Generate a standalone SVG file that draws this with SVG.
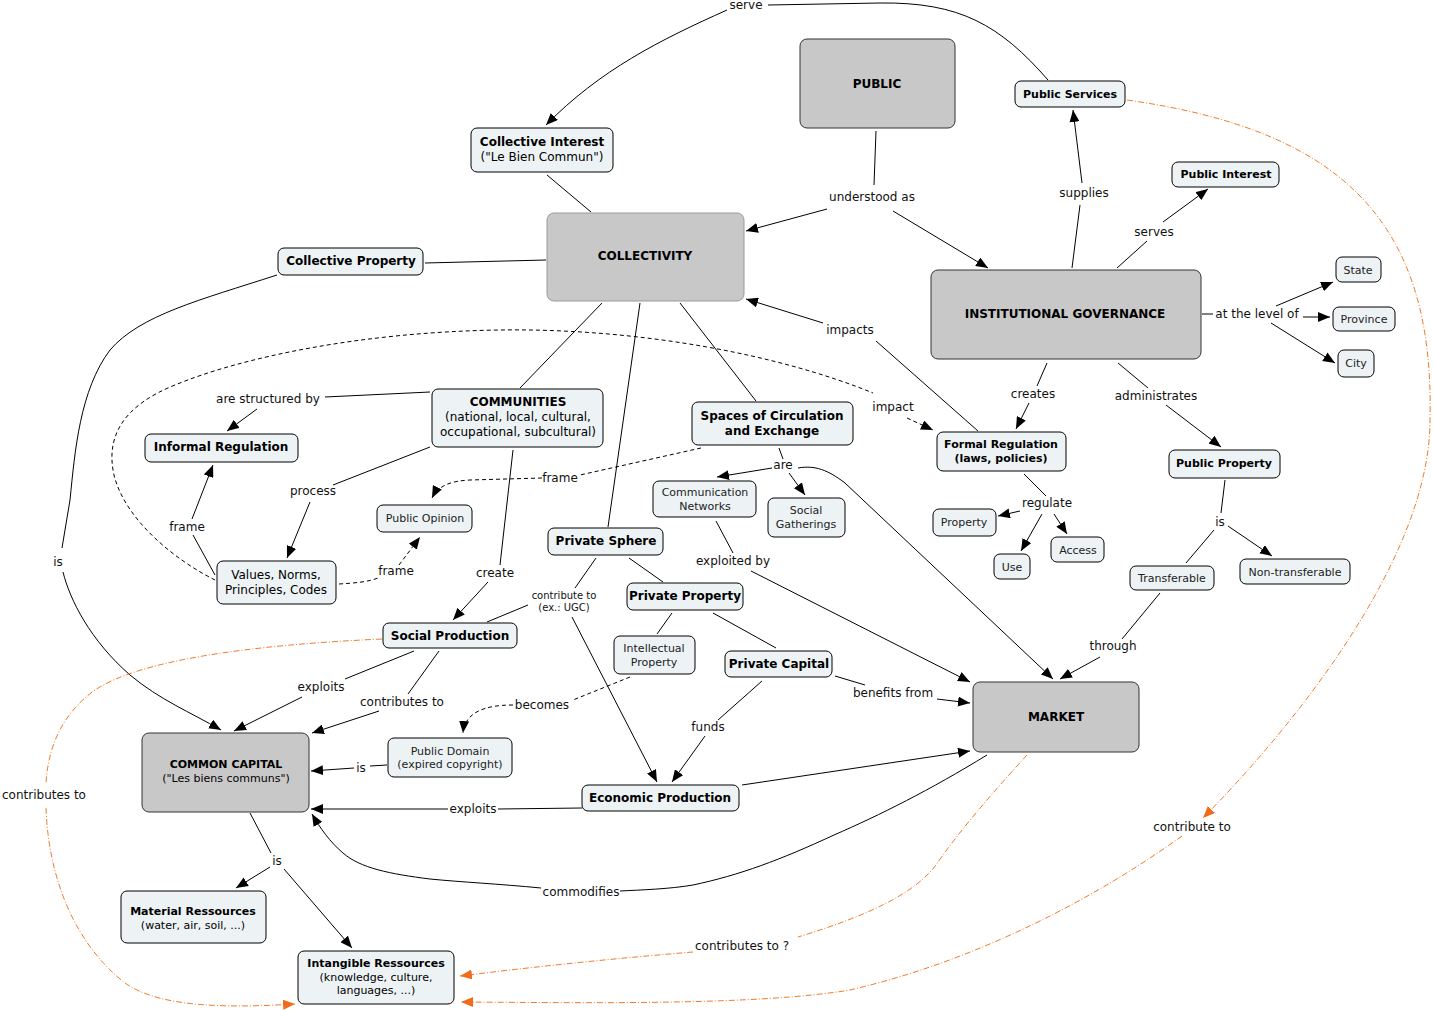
<svg xmlns="http://www.w3.org/2000/svg" width="1433" height="1010" viewBox="0 0 1433 1010">
<defs>
<style>
.n rect{fill:#edf3f5;stroke:#000;stroke-width:1}
.g rect{fill:#c8c8c8;stroke:#333;stroke-width:1}
text{font-family:"DejaVu Sans",Verdana,sans-serif;text-anchor:middle;dominant-baseline:central;fill:#000}
.b{font-size:12px;font-weight:bold}
.b11{font-size:11px;font-weight:bold}
.r{font-size:12px}
.r11{font-size:11px}
.s{font-size:11px;fill:#222}
.l{font-size:12px;fill:#111}
.l10{font-size:10px;fill:#111}
.c path{fill:none;stroke:#000;stroke-width:1}
.c path.d{stroke-dasharray:4,3}
.c path.a{marker-end:url(#ah)}
.o path{fill:none;stroke:#ef7d2e;stroke-width:1;stroke-dasharray:6,2,1,2}
.o path.a{marker-end:url(#oh)}
</style>
<marker id="ah" viewBox="0 0 12 10" refX="12" refY="5" markerWidth="12" markerHeight="10" markerUnits="userSpaceOnUse" orient="auto"><path d="M0,0 L12,5 L0,10 z" fill="#000"/></marker>
<marker id="oh" viewBox="0 0 12 10" refX="12" refY="5" markerWidth="12" markerHeight="10" markerUnits="userSpaceOnUse" orient="auto"><path d="M0,0 L12,5 L0,10 z" fill="#f26b1a"/></marker>
</defs>
<rect width="1433" height="1010" fill="#fff"/>

<g id="connectors">
<g class="c">
<path d="M1048,80 C1000,25 960,2 880,3 L768,5"/>
<path class="a" d="M727,10 C660,40 600,70 546,125"/>
<path d="M547,175 L591,212"/>
<path d="M876,131 L874,185"/>
<path class="a" d="M827,209 L746,231"/>
<path class="a" d="M893,211 L988,268"/>
<path d="M1072,268 L1080,205"/>
<path class="a" d="M1082,183 L1073,110"/>
<path d="M1117,268 L1147,241"/>
<path class="a" d="M1163,222 L1208,189"/>
<path d="M1202,314 L1213,314"/>
<path class="a" d="M1276,306 L1333,282"/>
<path class="a" d="M1303,317 L1330,317"/>
<path class="a" d="M1271,323 L1335,363"/>
<path d="M425,263 L546,260"/>
<path d="M277,275 C200,300 140,315 110,350 C80,390 75,450 70,500 L62,548"/>
<path class="a" d="M63,572 C70,600 90,640 130,675 C160,700 190,712 221,730"/>
<path d="M414,651 L345,679"/>
<path class="a" d="M302,697 L234,731"/>
<path d="M439,651 L408,694"/>
<path class="a" d="M379,711 L312,733"/>
<path d="M387,765 L370,766"/>
<path class="a" d="M354,768 L311,771"/>
<path d="M582,808 L498,809"/>
<path class="a" d="M448,809 L311,809"/>
<path d="M987,755 C930,790 880,815 834,835 C780,860 740,875 693,885 C670,889 640,890 620,891"/>
<path class="a" d="M541,888 C500,884 460,882 430,879 C390,874 360,868 343,853 C330,842 320,828 312,814"/>
<path d="M250,813 L271,853"/>
<path class="a" d="M270,867 L236,888"/>
<path class="a" d="M284,869 L352,948"/>
<path d="M513,450 L500,565"/>
<path class="a" d="M488,582 L453,620"/>
<path d="M596,558 L575,588"/>
<path d="M528,605 L487,622"/>
<path class="a" d="M572,617 L657,782"/>
<path d="M629,558 L663,582"/>
<path d="M672,613 L657,634"/>
<path d="M713,613 L776,648"/>
<path class="d" d="M630,677 L573,700"/>
<path class="d a" d="M513,705 C485,705 465,712 463,733"/>
<path d="M762,681 L718,720"/>
<path class="a" d="M705,736 L672,782"/>
<path d="M835,676 L865,685"/>
<path class="a" d="M937,699 L970,703"/>
<path class="a" d="M742,785 L970,751"/>
<path d="M716,521 L733,553"/>
<path class="a" d="M751,571 L970,682"/>
<path d="M779,448 L783,459"/>
<path class="a" d="M772,468 L717,477"/>
<path class="a" d="M789,473 L805,495"/>
<path class="a" d="M798,468 C815,465 828,470 845,483 L1053,679"/>
<path d="M1160,593 L1122,639"/>
<path class="a" d="M1100,657 L1060,679"/>
<path d="M1225,480 L1221,513"/>
<path d="M1214,530 L1186,563"/>
<path class="a" d="M1228,526 L1272,556"/>
<path d="M1118,363 L1148,388"/>
<path class="a" d="M1166,405 L1221,447"/>
<path d="M1047,363 L1037,386"/>
<path class="a" d="M1029,403 L1016,429"/>
<path d="M1024,474 L1046,496"/>
<path class="a" d="M1020,511 L998,516"/>
<path class="a" d="M1042,514 L1021,551"/>
<path class="a" d="M1054,514 L1067,534"/>
<path d="M978,431 L876,341"/>
<path class="a" d="M823,323 L746,299"/>
<path class="d" d="M215,580 C175,560 125,520 114,475 C105,435 125,405 175,385 C240,358 360,332 500,330 C640,328 780,355 873,393"/>
<path class="d a" d="M907,418 L933,430"/>
<path d="M430,392 L325,397"/>
<path class="a" d="M257,409 L227,431"/>
<path d="M430,447 L333,485"/>
<path class="a" d="M310,502 L287,558"/>
<path d="M215,575 L193,535"/>
<path class="a" d="M192,519 L213,465"/>
<path class="d" d="M339,584 C355,583 368,582 378,578"/>
<path class="d a" d="M399,565 L420,537"/>
<path class="d" d="M701,448 L580,475"/>
<path class="d a" d="M542,478 L470,480 C450,481 438,486 432,498"/>
<path d="M602,303 L520,388"/>
<path d="M640,303 L608,527"/>
<path d="M680,303 L756,401"/>
</g>
<g class="o">
<path class="a" d="M1127,100 C1340,130 1435,220 1430,420 C1430,560 1290,730 1203,818"/>
<path class="a" d="M1182,836 C1100,895 980,960 850,990 C760,1005 600,1003 461,1002"/>
<path d="M1027,755 C995,790 960,830 936,865 C915,893 870,915 798,937"/>
<path class="a" d="M693,952 C620,958 540,966 460,976"/>
<path d="M382,639 C250,645 140,660 95,690 C60,715 48,750 46,783"/>
<path class="a" d="M46,808 C48,870 70,940 125,983 C160,1008 230,1008 295,1004"/>
</g>
<g id="labels">
<text class="l" x="746" y="5">serve</text>
<text class="l" x="872" y="197">understood as</text>
<text class="l" x="1084" y="193">supplies</text>
<text class="l" x="1154" y="232">serves</text>
<text class="l" x="1257" y="314">at the level of</text>
<text class="l" x="850" y="330">impacts</text>
<text class="l" x="893" y="407">impact</text>
<text class="l" x="268" y="399">are structured by</text>
<text class="l" x="313" y="491">process</text>
<text class="l" x="187" y="527">frame</text>
<text class="l" x="396" y="571">frame</text>
<text class="l" x="560" y="478">frame</text>
<text class="l" x="495" y="573">create</text>
<text class="l" x="783" y="465">are</text>
<text class="l" x="733" y="561">exploited by</text>
<text class="l10" x="564" y="595">contribute to</text>
<text class="l10" x="564" y="607">(ex.: UGC)</text>
<text class="l" x="1033" y="394">creates</text>
<text class="l" x="1156" y="396">administrates</text>
<text class="l" x="1047" y="503">regulate</text>
<text class="l" x="1220" y="522">is</text>
<text class="l" x="1113" y="646">through</text>
<text class="l" x="893" y="693">benefits from</text>
<text class="l" x="708" y="727">funds</text>
<text class="l" x="542" y="705">becomes</text>
<text class="l" x="321" y="687">exploits</text>
<text class="l" x="402" y="702">contributes to</text>
<text class="l" x="361" y="768">is</text>
<text class="l" x="473" y="809">exploits</text>
<text class="l" x="581" y="892">commodifies</text>
<text class="l" x="277" y="861">is</text>
<text class="l" x="58" y="562">is</text>
<text class="l" x="44" y="795">contributes to</text>
<text class="l" x="1192" y="827">contribute to</text>
<text class="l" x="742" y="946">contributes to ?</text>
</g>
</g>

<g id="n-public" class="g"><rect x="800" y="39" width="155" height="89" rx="7"/><text class="b" x="877" y="84">PUBLIC</text></g>
<g id="n-collectivity" class="g"><rect x="547" y="213" width="197" height="88" rx="7" style="stroke:#9a9a9a"/><text class="b" x="645" y="256">COLLECTIVITY</text></g>
<g id="n-instgov" class="g"><rect x="931" y="270" width="270" height="89" rx="7"/><text class="b" x="1065" y="314">INSTITUTIONAL GOVERNANCE</text></g>
<g id="n-market" class="g"><rect x="973" y="682" width="166" height="70" rx="7"/><text class="b" x="1056" y="717">MARKET</text></g>
<g id="n-commoncapital" class="g"><rect x="142" y="733" width="167" height="79" rx="7"/><text class="b11" x="226" y="764">COMMON CAPITAL</text><text class="r11" x="226" y="778">("Les biens communs")</text></g>

<g id="n-publicservices" class="n"><rect x="1015" y="81" width="110" height="26" rx="6"/><text class="b11" x="1070" y="94">Public Services</text></g>
<g id="n-collectiveinterest" class="n"><rect x="471" y="128" width="142" height="44" rx="6"/><text class="b" x="542" y="142">Collective Interest</text><text class="r" x="542" y="157">("Le Bien Commun")</text></g>
<g id="n-publicinterest" class="n"><rect x="1172" y="162" width="107" height="25" rx="6"/><text class="b11" x="1226" y="174">Public Interest</text></g>
<g id="n-collectiveproperty" class="n"><rect x="278" y="248" width="145" height="27" rx="6"/><text class="b" x="351" y="261">Collective Property</text></g>
<g id="n-state" class="n"><rect x="1336" y="257" width="45" height="25" rx="6"/><text class="s" x="1358" y="270">State</text></g>
<g id="n-province" class="n"><rect x="1333" y="307" width="62" height="24" rx="6"/><text class="s" x="1364" y="319">Province</text></g>
<g id="n-city" class="n"><rect x="1338" y="350" width="36" height="27" rx="6"/><text class="s" x="1356" y="363">City</text></g>
<g id="n-communities" class="n"><rect x="432" y="389" width="171" height="58" rx="6"/><text class="b" x="518" y="402">COMMUNITIES</text><text class="r" x="518" y="417">(national, local, cultural,</text><text class="r" x="518" y="432">occupational, subcultural)</text></g>
<g id="n-spaces" class="n"><rect x="692" y="402" width="161" height="43" rx="6"/><text class="b" x="772" y="416">Spaces of Circulation</text><text class="b" x="772" y="431">and Exchange</text></g>
<g id="n-informal" class="n"><rect x="145" y="434" width="153" height="28" rx="6"/><text class="b" x="221" y="447">Informal Regulation</text></g>
<g id="n-formal" class="n"><rect x="937" y="432" width="129" height="39" rx="6"/><text class="b11" x="1001" y="444">Formal Regulation</text><text class="b11" x="1001" y="458">(laws, policies)</text></g>
<g id="n-publicproperty" class="n"><rect x="1169" y="450" width="111" height="28" rx="6"/><text class="b11" x="1224" y="463">Public Property</text></g>
<g id="n-commnet" class="n"><rect x="653" y="481" width="103" height="36" rx="6"/><text class="s" x="705" y="492">Communication</text><text class="s" x="705" y="506">Networks</text></g>
<g id="n-socialgath" class="n"><rect x="768" y="498" width="77" height="39" rx="6"/><text class="s" x="806" y="510">Social</text><text class="s" x="806" y="524">Gatherings</text></g>
<g id="n-publicopinion" class="n"><rect x="377" y="505" width="95" height="27" rx="6"/><text class="s" x="425" y="518">Public Opinion</text></g>
<g id="n-property" class="n"><rect x="933" y="509" width="63" height="27" rx="6"/><text class="s" x="964" y="522">Property</text></g>
<g id="n-access" class="n"><rect x="1051" y="537" width="53" height="25" rx="6"/><text class="s" x="1078" y="550">Access</text></g>
<g id="n-use" class="n"><rect x="994" y="554" width="36" height="25" rx="6"/><text class="s" x="1012" y="567">Use</text></g>
<g id="n-privatesphere" class="n"><rect x="548" y="528" width="115" height="27" rx="6"/><text class="b" x="606" y="541">Private Sphere</text></g>
<g id="n-values" class="n"><rect x="217" y="561" width="119" height="43" rx="6"/><text class="r" x="276" y="575">Values, Norms,</text><text class="r" x="276" y="590">Principles, Codes</text></g>
<g id="n-transferable" class="n"><rect x="1130" y="566" width="84" height="24" rx="6"/><text class="s" x="1172" y="578">Transferable</text></g>
<g id="n-nontransferable" class="n"><rect x="1240" y="559" width="110" height="25" rx="6"/><text class="s" x="1295" y="572">Non-transferable</text></g>
<g id="n-privateproperty" class="n"><rect x="627" y="583" width="116" height="27" rx="6"/><text class="b" x="685" y="596">Private Property</text></g>
<g id="n-socialproduction" class="n"><rect x="383" y="623" width="134" height="25" rx="6"/><text class="b" x="450" y="636">Social Production</text></g>
<g id="n-intellectual" class="n"><rect x="614" y="636" width="81" height="38" rx="6"/><text class="s" x="654" y="648">Intellectual</text><text class="s" x="654" y="662">Property</text></g>
<g id="n-privatecapital" class="n"><rect x="725" y="651" width="107" height="26" rx="6"/><text class="b" x="779" y="664">Private Capital</text></g>
<g id="n-publicdomain" class="n"><rect x="388" y="738" width="124" height="39" rx="6"/><text class="s" x="450" y="751">Public Domain</text><text class="s" x="450" y="764">(expired copyright)</text></g>
<g id="n-economicproduction" class="n"><rect x="582" y="785" width="157" height="26" rx="6"/><text class="b" x="660" y="798">Economic Production</text></g>
<g id="n-material" class="n"><rect x="121" y="891" width="145" height="52" rx="6"/><text class="b11" x="193" y="911">Material Ressources</text><text class="r11" x="193" y="925">(water, air, soil, ...)</text></g>
<g id="n-intangible" class="n"><rect x="298" y="951" width="156" height="53" rx="6"/><text class="b11" x="376" y="963">Intangible Ressources</text><text class="r11" x="376" y="977">(knowledge, culture,</text><text class="r11" x="376" y="990">languages, ...)</text></g>
</svg>
